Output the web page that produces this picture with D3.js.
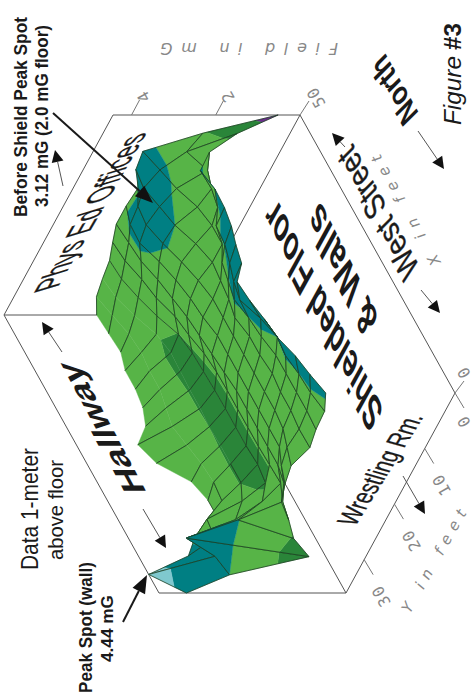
<!DOCTYPE html>
<html><head><meta charset="utf-8">
<script src="https://cdn.jsdelivr.net/npm/d3@7/dist/d3.min.js"></script>
<style>html,body{margin:0;padding:0;background:#fff}svg{display:block}text{font-family:"Liberation Sans",Arial,sans-serif}</style>
</head><body><div id="c"></div>
<script>
// Field in mG, one row per X grid line (X = 50 ft down to 0 ft), one column per Y grid line (0 to 36 ft)
const row00=[0.52,2.07,3.26,3.19,2.90,2.95,2.95,2.80,2.64,2.57,2.48,2.24];
const row01=[1.74,2.70,3.10,3.25,3.15,3.10,2.90,2.75,2.60,2.50,2.35,2.20];
const row02=[2.64,2.45,2.95,3.12,3.20,3.12,2.85,2.60,2.45,2.30,2.20,2.16];
const row03=[3.10,2.60,2.70,3.00,3.05,2.90,2.70,2.50,2.25,2.03,2.15,2.30];
const row04=[3.00,2.70,2.60,2.75,2.85,2.75,2.60,2.30,1.98,1.93,2.20,2.30];
const row05=[3.02,2.98,2.60,2.60,2.70,2.65,2.50,2.22,1.90,1.95,2.20,2.37];
const row06=[3.10,3.02,2.85,2.65,2.60,2.60,2.45,2.10,1.88,1.97,2.30,2.55];
const row07=[3.24,3.15,2.95,2.70,2.60,2.50,2.40,2.05,1.86,1.97,2.40,2.98];
const row08=[3.35,3.30,3.05,2.80,2.60,2.50,2.35,2.04,1.85,2.00,2.30,2.78];
const row09=[3.70,3.40,2.95,2.70,2.60,2.50,2.30,2.04,1.85,1.98,2.20,2.20];
const row10=[3.65,3.15,2.90,2.70,2.60,2.50,2.30,2.04,1.85,1.98,2.15,2.05];
const row11=[3.55,3.00,2.80,2.65,2.60,2.50,2.30,2.04,1.82,1.98,2.20,2.05];
const row12=[3.48,3.05,2.80,2.70,2.60,2.50,2.30,2.02,1.88,2.20,2.80,2.85];
const row13=[3.30,2.98,2.80,2.70,2.65,2.50,2.30,2.00,2.20,2.60,2.86,3.25];
const row14=[3.20,2.95,2.80,2.75,2.80,2.70,2.40,2.20,3.02,4.02,3.10,4.44];
const row15=[3.07,2.86,2.83,2.74,2.95,2.86,2.71,2.30,1.95,1.35,3.00,3.79];
const fieldRows=[row00,row01,row02,row03,row04,row05,row06,row07,row08,row09,row10,row11,row12,row13,row14,row15];

const xMaxFeet=50, yMaxFeet=36, zMaxMg=4.44;
const bandLimits=[1,2,3,4];
const bandColors=["#6b2d8c","#2a8539","#57b447","#007f83","#7fc8ce"];
const zTicks=[4,2];
const zTickLabels=["4","2"];
const yTicks=[0,10,20,30];
const yTickLabels=["0","10","20","30"];

const W=474,H=700;
const svg=d3.select("#c").append("svg").attr("width",W).attr("height",H).attr("viewBox",[0,0,W,H]);

// oblique projection: the page shows the plot turned a quarter turn
const xToLeft=d3.scaleLinear([xMaxFeet,0],[0,155]), xToTop=d3.scaleLinear([xMaxFeet,0],[0,278]);
const yToLeft=d3.scaleLinear([0,yMaxFeet],[0,-109]), yToTop=d3.scaleLinear([0,yMaxFeet],[0,200]);
const zToLeft=d3.scaleLinear([0,zMaxMg],[0,-187]);
const project=(X,Y,Z)=>[300+xToLeft(X)+yToLeft(Y)+zToLeft(Z),115+xToTop(X)+yToTop(Y)];
const line=d3.line();

// bounding box
const boxEdges=[
 [[xMaxFeet,0,0],[xMaxFeet,0,zMaxMg]],[[xMaxFeet,0,zMaxMg],[xMaxFeet,yMaxFeet,zMaxMg]],
 [[xMaxFeet,yMaxFeet,zMaxMg],[0,yMaxFeet,zMaxMg]],[[0,yMaxFeet,zMaxMg],[0,yMaxFeet,0]],
 [[0,yMaxFeet,0],[0,0,0]],[[0,0,0],[xMaxFeet,0,0]],[[xMaxFeet,0,0],[xMaxFeet,yMaxFeet,0]],
 [[xMaxFeet,yMaxFeet,0],[0,yMaxFeet,0]],[[xMaxFeet,yMaxFeet,0],[xMaxFeet,yMaxFeet,zMaxMg]]];
svg.append("g").selectAll("path").data(boxEdges).join("path")
 .attr("d",e=>line(e.map(p=>project(...p)))).attr("fill","none").attr("stroke","#555").attr("stroke-width",1);

// ticks
const ticks=svg.append("g").attr("stroke","#777").attr("stroke-width",1);
const stub=(p,dx,dy)=>ticks.append("path").attr("d",line([p,[p[0]+dx,p[1]+dy]]));
zTicks.forEach(z=>stub(project(xMaxFeet,0,z),8,-15));
stub(project(xMaxFeet,0,0),9,-14);
yTicks.forEach(y=>stub(project(0,y,0),9,15));
stub(project(0,0,0),9,-12);

// surface, far cells first, each cell cut along the colour band limits
const nI=fieldRows.length, nJ=fieldRows[0].length;
const Xs=d3.range(nI).map(i=>xMaxFeet*(1-i/(nI-1)));
const Ys=d3.range(nJ).map(j=>yMaxFeet*j/(nJ-1));
const node=(i,j)=>{const z=fieldRows[i][j],p=project(Xs[i],Ys[j],z);return {x:p[0],y:p[1],z};};
function clip(poly,lim,keepAbove){
  const out=[];
  poly.forEach((a,k)=>{
    const b=poly[(k+1)%poly.length];
    const ain=keepAbove?a.z>=lim:a.z<=lim, bin=keepAbove?b.z>=lim:b.z<=lim;
    if(ain)out.push(a);
    if(ain!==bin){const t=(lim-a.z)/(b.z-a.z);out.push({x:a.x+t*(b.x-a.x),y:a.y+t*(b.y-a.y),z:lim});}
  });
  return out;
}
const cells=[];
for(let i=0;i<nI-1;i++)for(let j=0;j<nJ-1;j++)cells.push({i,j,depth:(i+0.5)*10.33-(j+0.5)*9.91});
cells.sort((a,b)=>d3.ascending(a.depth,b.depth));
const surf=svg.append("g");
const meshColor="#1d3f22";
const limits=[-Infinity,...bandLimits,Infinity];
const closed=d3.line().curve(d3.curveLinearClosed);
cells.forEach(({i,j})=>{
  const q=[node(i,j),node(i+1,j),node(i+1,j+1),node(i,j+1)];
  bandColors.forEach((col,b)=>{
    let p=q;
    if(limits[b]>-Infinity)p=clip(p,limits[b],true);
    if(p.length&&limits[b+1]<Infinity)p=clip(p,limits[b+1],false);
    if(p.length>2)surf.append("path").attr("d",closed(p.map(n=>[n.x,n.y])))
      .attr("fill",col).attr("stroke",col).attr("stroke-width",0.4);
  });
  const seg=(a,b)=>surf.append("path").attr("d",line([[a.x,a.y],[b.x,b.y]])).attr("stroke",meshColor).attr("stroke-width",0.8).attr("fill","none");
  const openBand=j>=8&&i<=9;           // the hallway side shows only one family of mesh lines
  if(!openBand){seg(q[0],q[1]);seg(q[3],q[2]);}
  seg(q[0],q[3]);seg(q[1],q[2]);
});

// arrows
function arrow(a,b,w,hl,hw,col){
  const g=svg.append("g");
  const dx=b[0]-a[0],dy=b[1]-a[1],L=Math.hypot(dx,dy),ux=dx/L,uy=dy/L;
  const base=[b[0]-ux*hl,b[1]-uy*hl];
  g.append("path").attr("d",line([a,base])).attr("stroke",col).attr("stroke-width",w).attr("fill","none");
  g.append("path").attr("d",line([b,[base[0]-uy*hw,base[1]+ux*hw],[base[0]+uy*hw,base[1]-ux*hw],b])).attr("fill","#111");
}
[[[63,186],[55,150]],[[62,352],[42,322]],[[143,509],[166,548]],[[345,147],[332,133]],
 [[421,290],[440,313]],[[418,131],[444,169]],[[403,476],[425,514]]].forEach(a=>arrow(a[0],a[1],1,12,6,"#555"));
arrow([53,113],[153,203],2,18,7,"#1a1a1a");
arrow([123,622],[147,575],2,18,7,"#1a1a1a");

// text helper: origin, writing direction, glyph-down direction
function label(str,o,u,v,size,len,opt={}){
  svg.append("text").attr("transform",`matrix(${u[0]},${u[1]},${v[0]},${v[1]},${o[0]},${o[1]})`)
   .attr("font-size",size).attr("font-weight",opt.weight||"normal").attr("font-style",opt.style||"normal")
   .attr("fill",opt.fill||"#1a1a1a").attr("textLength",len).attr("lengthAdjust",opt.adjust||"spacingAndGlyphs")
   .attr("text-anchor",opt.anchor||"start")
   .attr("stroke",opt.bold?"#1a1a1a":null).attr("stroke-width",opt.bold||null)
   .style("font-family",opt.family||null).text(str);
}
const up=[0,-1],right=[1,0];
label("Before Shield Peak Spot",[27,217],up,right,18,200,{weight:"bold"});
label("3.12 mG (2.0 mG floor)",[48,207],up,right,18,182,{weight:"bold"});
label("Data  1-meter",[38,570],up,right,23,122);
label("above floor",[63,560],up,right,21,100);
label("Peak Spot (wall)",[92,693],up,right,18,131,{weight:"bold"});
label("4.44 mG",[113,662],up,right,16.5,67,{weight:"bold"});
label("Figure",[461,125],up,right,23,69,{style:"italic"});
label("#3",[461,50],up,right,23,27,{weight:"bold"});
label("Phys Ed Offices",[58,287],[0.5,-0.87],[0.956,-0.29],38,179,{bold:0.35});
label("Hallway",[147,493],[-0.47,-0.88],[1,0],32,148,{weight:"bold"});
label("Wrestling Rm.",[355,527],[0.53,-0.85],[0.96,0.27],28,130,{bold:0.3});
label("Shielded Floor",[384,410],[-0.45,-0.89],[0.48,-0.87],42,240,{weight:"bold"});
label("& Walls",[379,317],[-0.45,-0.89],[0.48,-0.87],42,132,{weight:"bold"});
label("West Street",[420,267],[-0.48,-0.88],[0.7,-0.7],34,141,{bold:0.4});
label("North",[419,113],[-0.49,-0.87],[0.7,-0.7],32,70,{weight:"bold"});

// thin axis annotation
const thin={fill:"#888",style:"italic",adjust:"spacing",weight:"200",family:"'DejaVu Sans'"};
label("Field in mG",[338,43],[-1,0],[0,-1],16,178,thin);
label("X in feet",[441,262],[-0.49,-0.87],[0.87,-0.49],15,125,thin);
label("Y in feet",[410,614],[0.49,-0.87],[0.87,0.49],15,116,thin);
const tickFont={fill:"#888",family:"'DejaVu Sans Mono'",anchor:"middle",adjust:"spacing"};
const tickDir=[[-0.49,-0.87],[0.87,-0.49]];
zTicks.forEach((z,k)=>{const p=project(xMaxFeet,0,z);
  label(zTickLabels[k],[p[0]+17,p[1]-21],tickDir[0],tickDir[1],16,10,tickFont);});
label("50",[321,95],tickDir[0],tickDir[1],16,20,tickFont);
yTicks.forEach((y,k)=>{
  const p=project(0,y,0), off=k?[22,34]:[14,26];
  label(yTickLabels[k],[p[0]+off[0],p[1]+off[1]],tickDir[0],tickDir[1],16,yTickLabels[k].length*10.5,tickFont);
});
label("0",[469,370],tickDir[0],tickDir[1],16,10,tickFont);
</script></body></html>
